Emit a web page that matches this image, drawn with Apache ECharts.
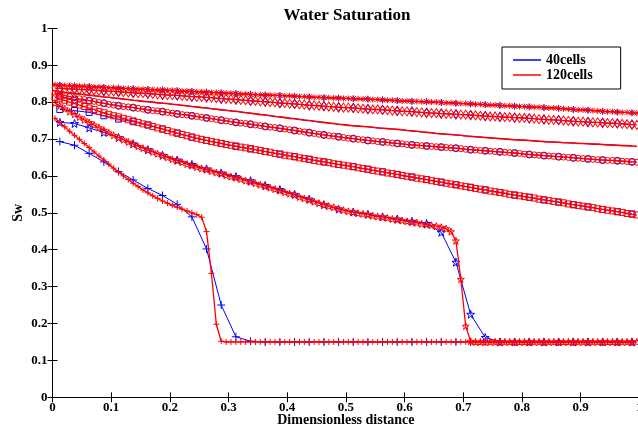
<!DOCTYPE html>
<html>
<head>
<meta charset="utf-8">
<script src="https://cdn.jsdelivr.net/npm/echarts@6/dist/echarts.min.js"></script>
<style>html,body{margin:0;padding:0;background:#fff}#c{width:638px;height:429px}</style>
</head>
<body>
<div id="c"></div>
<script>
// ---- data ----
var nCoarse = 40, nFine = 120;
var yTicks = [0,0.1,0.2,0.3,0.4,0.5,0.6,0.7,0.8,0.9,1];
var xTicks = [0,0.1,0.2,0.3,0.4,0.5,0.6,0.7,0.8,0.9,1];

// time 1 (plus markers)
var blue40_plus = [0.693,0.683,0.661,0.638,0.612,0.589,0.566,0.547,0.523,0.489,0.402,0.250,0.164,0.152,
0.150,0.150,0.150,0.150,0.150,0.150,0.150,0.150,0.150,0.150,0.150,0.150,0.150,0.150,0.150,0.150,
0.150,0.150,0.150,0.150,0.150,0.150,0.150,0.150,0.150,0.150];
var red120_plus = [0.756,0.745,0.733,0.721,0.710,0.699,0.688,0.677,0.665,0.654,0.643,0.632,0.621,0.610,0.600,
0.590,0.580,0.571,0.562,0.554,0.546,0.539,0.532,0.526,0.520,0.515,0.510,0.505,0.500,0.495,0.488,0.449,0.336,0.198,0.152,
0.150,0.150,0.150,0.150,0.150,0.150,0.150,0.150,0.150,0.150,0.150,0.150,0.150,0.150,0.150,0.150,0.150,
0.150,0.150,0.150,0.150,0.150,0.150,0.150,0.150,0.150,0.150,0.150,0.150,0.150,0.150,0.150,0.150,0.150,
0.150,0.150,0.150,0.150,0.150,0.150,0.150,0.150,0.150,0.150,0.150,0.150,0.150,0.150,0.150,0.150,0.150,
0.150,0.150,0.150,0.150,0.150,0.150,0.150,0.150,0.150,0.150,0.150,0.150,0.150,0.150,0.150,0.150,0.150,
0.150,0.150,0.150,0.150,0.150,0.150,0.150,0.150,0.150,0.150,0.150,0.150,0.150,0.150,0.150,0.150];

// time 2 (star markers)
var blue40_star = [0.745,0.742,0.730,0.718,0.704,0.687,0.671,0.656,0.643,0.631,
0.619,0.608,0.598,0.587,0.574,0.563,0.550,0.537,0.522,0.510,
0.502,0.496,0.489,0.483,0.477,0.471,0.447,0.366,0.225,0.162,
0.150,0.150,0.150,0.150,0.150,0.150,0.150,0.150,0.150,0.150];
var red120_star = [0.797,0.790,0.782,0.774,0.767,0.759,
0.752,0.745,0.738,0.731,0.724,0.717,
0.710,0.704,0.698,0.692,0.686,0.680,
0.675,0.670,0.665,0.660,0.655,0.650,
0.645,0.641,0.637,0.632,0.628,0.624,
0.620,0.617,0.613,0.609,0.606,0.602,
0.598,0.595,0.591,0.587,0.584,0.580,
0.576,0.572,0.568,0.564,0.560,0.556,
0.552,0.548,0.543,0.539,0.535,0.530,
0.526,0.522,0.518,0.515,0.511,0.507,
0.504,0.502,0.499,0.497,0.495,0.492,
0.490,0.488,0.486,0.483,0.481,0.479,
0.477,0.475,0.473,0.470,0.468,0.466,
0.464,0.461,0.457,0.449,0.424,0.320,
0.193,0.152,0.150,0.150,0.150,0.150,
0.150,0.150,0.150,0.150,0.150,0.150,
0.150,0.150,0.150,0.150,0.150,0.150,
0.150,0.150,0.150,0.150,0.150,0.150,
0.150,0.150,0.150,0.150,0.150,0.150,
0.150,0.150,0.150,0.150,0.150,0.150];

// time 3 (square markers)
var blue40_square = [0.780,0.777,0.772,0.763,0.754,0.747,0.738,0.727,0.716,0.705,
0.696,0.688,0.680,0.673,0.666,0.659,0.652,0.645,0.638,0.631,
0.625,0.618,0.611,0.604,0.597,0.590,0.583,0.576,0.569,0.562,
0.555,0.548,0.542,0.535,0.529,0.522,0.516,0.509,0.503,0.497];
var red120_square = [0.813,0.809,0.805,0.800,0.796,0.792,
0.788,0.784,0.780,0.775,0.771,0.767,
0.763,0.760,0.756,0.752,0.749,0.745,
0.741,0.738,0.734,0.730,0.727,0.723,
0.719,0.716,0.712,0.709,0.705,0.702,
0.699,0.696,0.693,0.691,0.688,0.685,
0.683,0.681,0.678,0.676,0.674,0.671,
0.669,0.666,0.664,0.661,0.659,0.656,
0.654,0.652,0.649,0.647,0.645,0.642,
0.640,0.638,0.636,0.633,0.631,0.629,
0.627,0.625,0.622,0.620,0.618,0.615,
0.613,0.611,0.608,0.606,0.604,0.601,
0.599,0.597,0.594,0.592,0.590,0.587,
0.585,0.583,0.580,0.578,0.576,0.573,
0.571,0.569,0.566,0.564,0.562,0.559,
0.557,0.555,0.553,0.550,0.548,0.546,
0.544,0.542,0.540,0.537,0.535,0.533,
0.531,0.529,0.527,0.524,0.522,0.520,
0.518,0.516,0.514,0.511,0.509,0.507,
0.505,0.503,0.501,0.498,0.496,0.494];

// time 4 (circle markers)
var blue40_circle = [0.815,0.807,0.804,0.797,0.790,0.785,0.779,0.774,0.768,0.763,
0.757,0.751,0.745,0.740,0.734,0.729,0.723,0.717,0.711,0.706,
0.701,0.696,0.692,0.688,0.684,0.681,0.678,0.675,0.671,0.668,
0.665,0.662,0.658,0.655,0.652,0.649,0.646,0.643,0.641,0.638];
var red120_circle = [0.824,0.821,0.818,0.815,0.812,0.809,
0.807,0.804,0.802,0.799,0.797,0.794,
0.792,0.790,0.788,0.787,0.785,0.783,
0.781,0.779,0.777,0.776,0.774,0.772,
0.770,0.768,0.766,0.765,0.763,0.761,
0.759,0.757,0.755,0.753,0.751,0.749,
0.747,0.745,0.743,0.742,0.740,0.738,
0.736,0.734,0.732,0.731,0.729,0.727,
0.725,0.723,0.721,0.719,0.717,0.715,
0.713,0.711,0.709,0.708,0.706,0.704,
0.702,0.701,0.699,0.698,0.696,0.695,
0.693,0.692,0.691,0.689,0.688,0.687,
0.685,0.684,0.683,0.682,0.681,0.680,
0.679,0.678,0.677,0.676,0.675,0.674,
0.672,0.671,0.670,0.669,0.668,0.667,
0.666,0.665,0.664,0.663,0.662,0.661,
0.659,0.658,0.657,0.656,0.655,0.654,
0.653,0.652,0.651,0.650,0.649,0.648,
0.647,0.646,0.645,0.644,0.643,0.642,
0.642,0.641,0.640,0.639,0.638,0.637];

// time 5 (plain line)
var blue40_line = [0.828,0.823,0.819,0.814,0.810,0.805,0.801,0.797,0.793,0.788,
0.784,0.779,0.775,0.770,0.765,0.760,0.755,0.750,0.745,0.740,
0.736,0.733,0.729,0.726,0.722,0.718,0.714,0.711,0.707,0.704,
0.701,0.698,0.696,0.693,0.691,0.689,0.687,0.685,0.683,0.681];
var red120_line = [0.829,0.828,0.826,0.825,0.823,0.822,
0.820,0.819,0.817,0.816,0.814,0.813,
0.811,0.810,0.808,0.807,0.805,0.804,
0.802,0.801,0.800,0.798,0.797,0.796,
0.794,0.793,0.791,0.790,0.788,0.787,
0.785,0.784,0.782,0.781,0.779,0.778,
0.776,0.775,0.773,0.771,0.770,0.768,
0.766,0.765,0.763,0.761,0.760,0.758,
0.756,0.755,0.753,0.751,0.750,0.748,
0.746,0.745,0.743,0.742,0.740,0.739,
0.737,0.736,0.735,0.734,0.733,0.732,
0.730,0.729,0.728,0.727,0.726,0.725,
0.723,0.722,0.721,0.719,0.718,0.717,
0.715,0.714,0.713,0.712,0.711,0.710,
0.708,0.707,0.706,0.705,0.704,0.703,
0.702,0.701,0.700,0.699,0.698,0.697,
0.697,0.696,0.695,0.694,0.693,0.692,
0.692,0.691,0.690,0.690,0.689,0.688,
0.688,0.687,0.686,0.686,0.685,0.684,
0.684,0.683,0.682,0.682,0.681,0.680];

// time 6 (diamond markers)
var blue40_diamond = [0.837,0.835,0.833,0.830,0.828,0.825,0.823,0.820,0.818,0.815,
0.813,0.809,0.807,0.803,0.801,0.797,0.795,0.791,0.789,0.786,
0.784,0.781,0.779,0.776,0.774,0.771,0.769,0.767,0.765,0.762,
0.760,0.758,0.756,0.753,0.751,0.748,0.746,0.744,0.742,0.739];
var red120_diamond = [0.838,0.837,0.836,0.836,0.835,0.834,
0.834,0.833,0.832,0.831,0.830,0.829,
0.829,0.828,0.827,0.826,0.825,0.824,
0.824,0.823,0.822,0.821,0.820,0.819,
0.819,0.818,0.817,0.816,0.815,0.814,
0.814,0.813,0.812,0.811,0.810,0.809,
0.808,0.807,0.806,0.805,0.804,0.803,
0.802,0.801,0.800,0.799,0.798,0.797,
0.796,0.795,0.794,0.793,0.792,0.791,
0.790,0.789,0.788,0.787,0.786,0.785,
0.785,0.784,0.783,0.782,0.781,0.780,
0.780,0.779,0.778,0.777,0.776,0.775,
0.775,0.774,0.773,0.772,0.771,0.770,
0.770,0.769,0.768,0.768,0.767,0.766,
0.766,0.765,0.764,0.763,0.762,0.761,
0.761,0.760,0.759,0.759,0.758,0.757,
0.757,0.756,0.755,0.754,0.753,0.752,
0.752,0.751,0.750,0.749,0.748,0.747,
0.747,0.746,0.745,0.745,0.744,0.743,
0.743,0.742,0.741,0.740,0.739,0.738];

// time 7 (asterisk markers)
var blue40_aster = [0.846,0.844,0.842,0.840,0.838,0.836,0.834,0.833,0.831,0.829,
0.827,0.825,0.823,0.821,0.819,0.818,0.816,0.814,0.812,0.811,
0.809,0.808,0.806,0.804,0.802,0.801,0.799,0.797,0.795,0.793,
0.791,0.789,0.787,0.785,0.783,0.780,0.778,0.775,0.773,0.771];
var red120_aster = [0.847,0.846,0.845,0.845,0.844,0.843,
0.843,0.842,0.841,0.841,0.840,0.839,
0.839,0.838,0.837,0.837,0.836,0.835,
0.835,0.834,0.834,0.833,0.833,0.832,
0.832,0.831,0.830,0.830,0.829,0.828,
0.828,0.827,0.826,0.826,0.825,0.824,
0.824,0.823,0.822,0.822,0.821,0.820,
0.820,0.819,0.819,0.818,0.818,0.817,
0.817,0.816,0.815,0.815,0.814,0.813,
0.813,0.812,0.812,0.811,0.811,0.810,
0.810,0.809,0.809,0.808,0.808,0.807,
0.807,0.806,0.805,0.805,0.804,0.803,
0.803,0.802,0.802,0.801,0.801,0.800,
0.800,0.799,0.798,0.798,0.797,0.796,
0.796,0.795,0.794,0.794,0.793,0.792,
0.792,0.791,0.790,0.790,0.789,0.788,
0.788,0.787,0.786,0.786,0.785,0.784,
0.784,0.783,0.782,0.781,0.780,0.779,
0.779,0.778,0.777,0.776,0.775,0.774,
0.774,0.773,0.772,0.772,0.771,0.770];

// ---- chart ----
var FONT = "'Liberation Serif','Times New Roman',serif";
var BLUE = '#0000ff', RED = '#ff0000';
var SYM = {
  plus: 'path://M0,5L10,5M5,0L5,10',
  star: 'path://M5,0L6.18,3.38L9.76,3.45L6.9,5.62L7.94,9.05L5,7L2.06,9.05L3.1,5.62L0.24,3.45L3.82,3.38Z',
  aster: 'path://M0,5L10,5M5,0L5,10M1.5,1.5L8.5,8.5M1.5,8.5L8.5,1.5',
  rect: 'path://M0,0L10,0L10,10L0,10Z',
  circle: 'path://M0,5A5,5,0,1,1,10,5A5,5,0,1,1,0,5Z',
  diamond: 'path://M5,0L10,5L5,10L0,5Z'
};
function centers(n){ var a=[]; for(var i=0;i<n;i++) a.push((i+0.5)/n); return a; }
var xc = centers(nCoarse), xf = centers(nFine);
function pairs(xs, ys){ return ys.map(function(v,i){ return [xs[i], v]; }); }

function mk(name, color, xs, ys, sym, size, lw){
  return {
    type: 'line', name: name, data: pairs(xs, ys),
    symbol: sym ? SYM[sym] : 'none', showSymbol: !!sym, symbolSize: size,
    lineStyle: { color: color, width: lw },
    itemStyle: { color: 'rgba(0,0,0,0)', borderColor: color, borderWidth: 1 },
    emphasis: { disabled: true }, silent: true, animation: false, z: color === RED ? 3 : 2
  };
}

var series = [
  mk('40cells', BLUE, xc, blue40_aster, 'aster', 7, 1),
  mk('40cells', BLUE, xc, blue40_diamond, 'diamond', [6,9], 1),
  mk('40cells', BLUE, xc, blue40_line, null, 0, 1),
  mk('40cells', BLUE, xc, blue40_circle, 'circle', 7, 1),
  mk('40cells', BLUE, xc, blue40_square, 'rect', 6, 1),
  mk('40cells', BLUE, xc, blue40_star, 'star', 8, 1),
  mk('40cells', BLUE, xc, blue40_plus, 'plus', 8, 1),
  mk('120cells', RED, xf, red120_aster, 'aster', 6, 1.3),
  mk('120cells', RED, xf, red120_diamond, 'diamond', [6,9], 1.3),
  mk('120cells', RED, xf, red120_line, null, 0, 1.6),
  mk('120cells', RED, xf, red120_circle, 'circle', 6, 1.3),
  mk('120cells', RED, xf, red120_square, 'rect', 6, 1.3),
  mk('120cells', RED, xf, red120_star, 'star', 7, 1.3),
  mk('120cells', RED, xf, red120_plus, 'plus', 6, 1.3)
];

var axisCommon = {
  type: 'value', min: 0, max: 1, interval: 0.1,
  axisLine: { show: true, lineStyle: { color: '#000', width: 1 } },
  axisTick: { show: true, inside: true, length: 5, lineStyle: { color: '#000', width: 1 } },
  splitLine: { show: false }
};
function fmt(v){ var r = Math.round(v*10)/10; return (r===0||r===1) ? String(r) : r.toFixed(1); }

var chart = echarts.init(document.getElementById('c'), null, { renderer: 'canvas' });
chart.setOption({
  animation: false,
  backgroundColor: '#fff',
  title: {
    text: 'Water Saturation', left: 342, top: 2, textAlign: 'center',
    textStyle: { fontFamily: FONT, fontWeight: 'bold', fontSize: 17, color: '#000' }
  },
  legend: {
    orient: 'vertical', left: 502, top: 47,
    padding: [6, 28, 7, 11], itemWidth: 28, itemHeight: 1.5, itemGap: 1,
    borderColor: '#000', borderWidth: 1, backgroundColor: '#fff',
    selectedMode: false,
    textStyle: { fontFamily: FONT, fontWeight: 'bold', fontSize: 14, color: '#000', lineHeight: 13 },
    data: [
      { name: '40cells', icon: 'rect', itemStyle: { color: BLUE, borderWidth: 0 } },
      { name: '120cells', icon: 'rect', itemStyle: { color: RED, borderWidth: 0 } }
    ]
  },
  grid: { left: 52.5, top: 28.3, width: 586.8, height: 369, containLabel: false, outerBoundsMode: 'none' },
  xAxis: [
    Object.assign({}, axisCommon, {
      position: 'bottom', name: 'Dimensionless distance', nameLocation: 'middle', nameGap: 16,
      nameMoveOverlap: false,
      nameTextStyle: { fontFamily: FONT, fontWeight: 'bold', fontSize: 14, color: '#000' },
      axisLabel: { margin: 4, fontFamily: FONT, fontWeight: 'bold', fontSize: 13, color: '#000', formatter: fmt }
    }),
    Object.assign({}, axisCommon, { position: 'top', axisLabel: { show: false } })
  ],
  yAxis: [
    Object.assign({}, axisCommon, {
      position: 'left', name: 'Sw', nameLocation: 'middle', nameGap: 27, nameRotate: 90,
      nameMoveOverlap: false,
      nameTextStyle: { fontFamily: FONT, fontWeight: 'bold', fontSize: 14, color: '#000' },
      axisLabel: { margin: 5, fontFamily: FONT, fontWeight: 'bold', fontSize: 13, color: '#000', formatter: fmt }
    }),
    Object.assign({}, axisCommon, { position: 'right', axisLabel: { show: false } })
  ],
  series: series
});
</script>
</body>
</html>
